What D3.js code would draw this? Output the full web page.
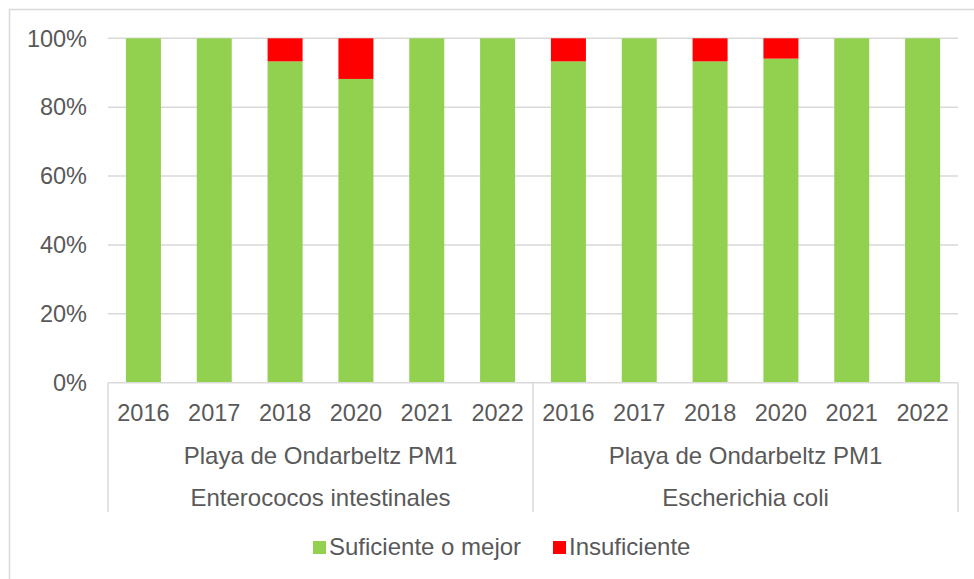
<!DOCTYPE html>
<html>
<head>
<meta charset="utf-8">
<script src="https://cdn.jsdelivr.net/npm/d3@7"></script>
<style>
  body { margin: 0; background: #fff; }
  text { font-family: "Liberation Sans", Arial, sans-serif; fill: #595959; }
</style>
</head>
<body>
<svg id="chart" width="974" height="579"></svg>
<script>
// data
var groups = ["Enterococos intestinales", "Escherichia coli"];
var site = "Playa de Ondarbeltz PM1";
var years = ["2016", "2017", "2018", "2020", "2021", "2022"];
var suficiente = [100, 100, 93.3, 88.2, 100, 100, 93.3, 100, 93.3, 94.1, 100, 100];
var insuficiente = [0, 0, 6.7, 11.8, 0, 0, 6.7, 0, 6.7, 5.9, 0, 0];
var yTicks = [0, 20, 40, 60, 80, 100];
var seriesNames = ["Suficiente o mejor", "Insuficiente"];
var colors = ["#92d050", "#ff0000"];

var svg = d3.select("#chart");
var plotLeft = 108, plotRight = 958, plotTop = 38.3, plotBottom = 382.7;
var fs = "23.5px", fsBig = "24px";

// chart border (runs off the right / bottom edge)
svg.append("rect").attr("x", 9.5).attr("y", 9.5).attr("width", 1000).attr("height", 600)
   .attr("fill", "none").attr("stroke", "#d9d9d9").attr("stroke-width", 1.5);

// category keys
var cats = [];
groups.forEach(function (g, gi) {
  years.forEach(function (y, yi) { cats.push({ group: gi, year: y, i: gi * years.length + yi }); });
});

var x = d3.scaleBand().domain(cats.map(function (d) { return d.i; }))
    .range([plotLeft, plotRight]).paddingInner(0.506).paddingOuter(0.253);
var y = d3.scaleLinear().domain([0, 100]).range([plotBottom, plotTop]);

// gridlines
svg.append("g").selectAll("line").data(yTicks.filter(function (d) { return d > 0; }))
   .enter().append("line")
   .attr("x1", plotLeft).attr("x2", plotRight)
   .attr("y1", function (d) { return y(d); }).attr("y2", function (d) { return y(d); })
   .attr("stroke", "#d9d9d9").attr("stroke-width", 1.5);

// y labels
svg.append("g").selectAll("text").data(yTicks).enter().append("text")
   .attr("x", 87).attr("y", function (d) { return y(d); }).attr("dy", "0.35em")
   .attr("text-anchor", "end").style("font-size", fs)
   .text(function (d) { return d + "%"; });

// stacked bars
var stackData = cats.map(function (c) {
  return { i: c.i, s: suficiente[c.i], n: insuficiente[c.i] };
});
var stack = d3.stack().keys(["s", "n"])(stackData);

svg.append("g").selectAll("g").data(stack).enter().append("g")
   .attr("fill", function (d, i) { return colors[i]; })
   .selectAll("rect").data(function (d) { return d; }).enter().append("rect")
   .attr("x", function (d) { return x(d.data.i); })
   .attr("width", x.bandwidth())
   .attr("y", function (d) { return y(d[1]); })
   .attr("height", function (d) { return y(d[0]) - y(d[1]); });

// multi-level category axis
var axisG = svg.append("g").attr("stroke", "#d9d9d9").attr("stroke-width", 1.5);
axisG.append("line").attr("x1", plotLeft).attr("x2", plotRight).attr("y1", plotBottom).attr("y2", plotBottom);
var groupEdges = [plotLeft, (plotLeft + plotRight) / 2, plotRight];
axisG.selectAll(".sep").data(groupEdges).enter().append("line")
   .attr("x1", function (d) { return d; }).attr("x2", function (d) { return d; })
   .attr("y1", plotBottom).attr("y2", 512);

svg.append("g").selectAll("text").data(cats).enter().append("text")
   .attr("x", function (d) { return x(d.i) + x.bandwidth() / 2; })
   .attr("y", 421).attr("text-anchor", "middle").style("font-size", fs)
   .text(function (d) { return d.year; });

groups.forEach(function (g, gi) {
  var cx = (groupEdges[gi] + groupEdges[gi + 1]) / 2;
  svg.append("text").attr("x", cx).attr("y", 464).attr("text-anchor", "middle")
     .style("font-size", fsBig).text(site);
  svg.append("text").attr("x", cx).attr("y", 506).attr("text-anchor", "middle")
     .style("font-size", fsBig).text(g);
});

// legend
var legX = [313, 553];
var leg = svg.append("g").selectAll("g").data(seriesNames).enter().append("g")
   .attr("transform", function (d, i) { return "translate(" + legX[i] + ",0)"; });
leg.append("rect").attr("x", 0).attr("y", 541).attr("width", 13).attr("height", 13)
   .attr("fill", function (d, i) { return colors[i]; });
leg.append("text").attr("x", 16).attr("y", 555).style("font-size", fsBig)
   .text(function (d) { return d; });
</script>
</body>
</html>
